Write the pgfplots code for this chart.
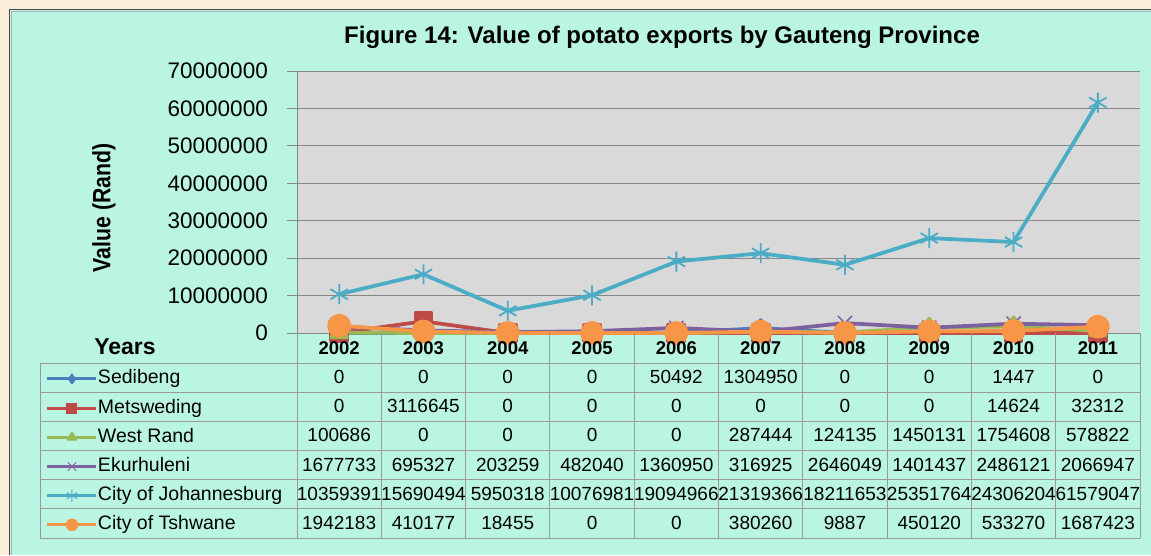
\documentclass[border=0pt]{standalone}
\usepackage{fontspec}
\setmainfont{Liberation Sans}
\usepackage{graphicx}
\usepackage{pgfplots}
\usepackage{pgfplotstable}
\pgfplotsset{compat=1.18}
\definecolor{mint}{HTML}{BAF5E3}
\definecolor{beige}{HTML}{FBEEDA}
\definecolor{plotbg}{HTML}{D9D9D9}
\definecolor{gridc}{HTML}{868686}
\definecolor{tabc}{HTML}{9A9A9A}
\definecolor{sedc}{HTML}{4A7EBB}
\definecolor{metc}{HTML}{BE4B48}
\definecolor{wrc}{HTML}{98B954}
\definecolor{ekc}{HTML}{7D60A0}
\definecolor{jhbc}{HTML}{4BACC6}
\definecolor{tshc}{HTML}{F79646}

\pgfplotstableread{
idx Sed Met WR Ekr Jhb Tsh
0 0 0 100686 1677733 10359391 1942183
1 0 3116645 0 695327 15690494 410177
2 0 0 0 203259 5950318 18455
3 0 0 0 482040 10076981 0
4 50492 0 0 1360950 19094966 0
5 1304950 0 287444 316925 21319366 380260
6 0 0 124135 2646049 18211653 9887
7 0 0 1450131 1401437 25351764 450120
8 1447 14624 1754608 2486121 24306204 533270
9 0 32312 578822 2066947 61579047 1687423
}\data

\newcommand{\tabfont}{\fontsize{19}{21}\selectfont}

\begin{document}
\begin{tikzpicture}[x=1pt,y=1pt]
% background and frame
\fill[beige] (0,0) rectangle (1151,555);
\fill[mint] (9,0) rectangle (1151,545);
\draw[black!70, line width=1.5pt] (9.5,0) -- (9.5,545.5) -- (1151,545.5);
\draw[black!30, line width=1pt] (11.5,0) -- (11.5,543.5) -- (1151,543.5);

\begin{axis}[
  at={(297pt,222pt)}, anchor=south west,
  scale only axis, width=843pt, height=262pt,
  xmin=-0.5, xmax=9.5, ymin=0, ymax=70000000,
  clip=false,
  scaled y ticks=false,
  axis background/.style={fill=plotbg},
  axis x line*=bottom, axis y line*=left,
  axis line style={draw=gridc, -},
  xtick=\empty,
  ytick={0,10000000,20000000,30000000,40000000,50000000,60000000,70000000},
  yticklabels={0,10000000,20000000,30000000,40000000,50000000,60000000,70000000},
  tick align=outside, major tick length=10pt,
  y tick style={draw=gridc, line width=0.8pt},
  ymajorgrids, grid style={draw=gridc, line width=0.8pt},
  yticklabel style={font=\fontsize{22.5}{24}\selectfont, inner sep=0pt, anchor=east, xshift=-19pt},
  every axis plot/.append style={line width=3.75pt, line join=round},
  legend cell align=left,
  legend style={at={(-0.29775,-0.1412)}, anchor=north west, draw=none, fill=none,
    inner sep=0pt, outer sep=0pt, row sep=11.17pt, column sep=0pt,
    font=\fontsize{19.5}{21}\selectfont,
    nodes={inner sep=0pt, text height=14pt, text depth=4pt}},
  legend image code/.code={\draw[mark repeat=2,mark phase=2,#1] plot coordinates {(0pt,0pt)(24.5pt,0pt)(49pt,0pt)};},
]
\addplot[forget plot, sedc, mark=diamond*, mark size=8pt, mark options={solid}] table[x=idx,y=Sed]{\data};
\addplot[forget plot, metc, mark=square*, mark size=8pt, mark options={solid}] table[x=idx,y=Met]{\data};
\addplot[forget plot, wrc, mark=triangle*, mark size=9pt, mark options={solid}] table[x=idx,y=WR]{\data};
\addplot[forget plot, ekc, mark=x, mark size=10pt, mark options={solid, line width=1.5pt}] table[x=idx,y=Ekr]{\data};
\addplot[forget plot, jhbc, mark=asterisk, mark size=10pt, mark options={solid, line width=1.8pt}] table[x=idx,y=Jhb]{\data};
\addplot[forget plot, tshc, mark=*, mark size=10pt, mark options={solid, draw=tshc, fill=tshc}] table[x=idx,y=Tsh]{\data};
\addlegendimage{sedc, line width=3pt, mark=diamond*, mark size=5pt, mark options={solid, line width=1pt}}
\addlegendentry{Sedibeng}
\addlegendimage{metc, line width=3pt, mark=square*, mark size=5pt, mark options={solid, line width=1pt}}
\addlegendentry{Metsweding}
\addlegendimage{wrc, line width=3pt, mark=triangle*, mark size=5.5pt, mark options={solid, line width=1pt}}
\addlegendentry{West Rand}
\addlegendimage{ekc, line width=3pt, mark=x, mark size=6pt, mark options={solid, line width=1pt}}
\addlegendentry{Ekurhuleni}
\addlegendimage{jhbc, line width=3pt, mark=asterisk, mark size=6pt, mark options={solid, line width=1pt}}
\addlegendentry{City of Johannesburg}
\addlegendimage{tshc, line width=3pt, mark=*, mark size=6pt, mark options={solid, draw=tshc, fill=tshc, line width=0.5pt}}
\addlegendentry{City of Tshwane}
\end{axis}

% title and axis titles
\node[font=\fontsize{24}{26}\selectfont\bfseries] at (662,518) {Figure 14: Value of potato exports by Gauteng Province};
\node[rotate=90] at (104,347) {\scalebox{0.85}[1]{\fontsize{25}{27}\selectfont\bfseries Value (Rand)}};
\node[font=\fontsize{23}{25}\selectfont\bfseries] at (125,208) {Years};

% data table grid
\foreach \k in {0,...,10} {
  \draw[tabc, line width=0.9pt] ({297+84.3*\k},222) -- ({297+84.3*\k},17);
}
\draw[tabc, line width=0.9pt] (40,192) -- (40,17);
\foreach \r in {0,...,6} {
  \draw[tabc, line width=0.9pt] (40,{192-29.17*\r}) -- (1140,{192-29.17*\r});
}
% years
\foreach \k [evaluate=\k as \yr using int(2002+\k)] in {0,...,9} {
  \node[font=\fontsize{18.5}{20}\selectfont\bfseries] at ({297+84.3*(\k+0.5)},207) {\yr};
}
% values
\foreach \col [count=\r from 0] in {Sed,Met,WR,Ekr,Jhb,Tsh} {
  \foreach \k in {0,...,9} {
    \pgfplotstablegetelem{\k}{\col}\of\data
    \node[font=\tabfont, inner sep=0pt] at ({297+84.3*(\k+0.5)},{192.5-29.17*(\r+0.5)}) {\pgfplotsretval};
  }
}
\pgfresetboundingbox
\path (0,0) rectangle (1151,555);
\end{tikzpicture}
\end{document}
